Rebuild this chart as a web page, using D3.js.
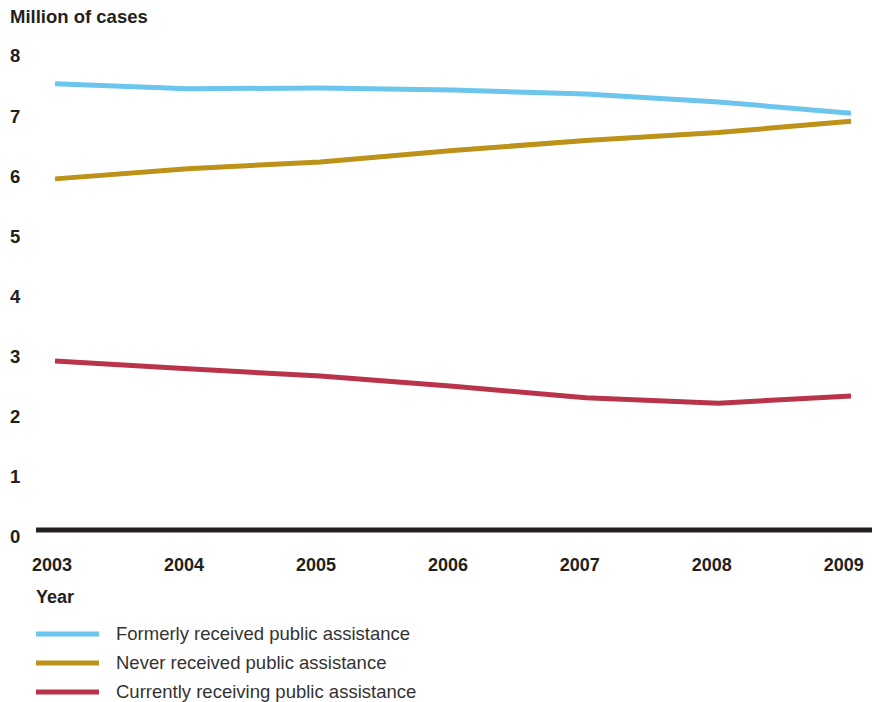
<!DOCTYPE html>
<html>
<head>
<meta charset="utf-8">
<script src="https://cdn.jsdelivr.net/npm/d3@7"></script>
<style>
  html, body { margin: 0; padding: 0; background: #fff; }
  svg { display: block; font-family: "Liberation Sans", Arial, Helvetica, sans-serif; }
</style>
</head>
<body>
<svg id="chart" width="874" height="702"></svg>
<script>
// Child support caseload by public assistance status, millions of cases
const years = [2003, 2004, 2005, 2006, 2007, 2008, 2009];
const formerly = [7.42, 7.34, 7.35, 7.32, 7.25, 7.12, 6.93];
const never = [5.84, 6.01, 6.12, 6.31, 6.48, 6.61, 6.80];
const currently = [2.81, 2.68, 2.56, 2.39, 2.20, 2.11, 2.23];
const yTicks = [0, 1, 2, 3, 4, 5, 6, 7, 8];
const seriesNames = [
  "Formerly received public assistance",
  "Never received public assistance",
  "Currently receiving public assistance"
];
const seriesColors = ["#6cc5ec", "#bc9218", "#b9344a"];

const series = [formerly, never, currently].map((vals, i) => ({
  name: seriesNames[i],
  color: seriesColors[i],
  values: vals.map((v, j) => ({ year: years[j], value: v }))
}));

const svg = d3.select("#chart");
const ink = "#231f20";

const x = d3.scaleLinear().domain([2003, 2009]).range([55, 851]);
const y = d3.scaleLinear().domain([0, 8]).range([530, 49]);

// Title
svg.append("text")
  .attr("x", 10).attr("y", 23)
  .attr("font-size", 18.5).attr("font-weight", "bold").attr("fill", ink)
  .text("Million of cases");

// Y tick labels (sit slightly below their values)
svg.append("g").selectAll("text").data(yTicks).join("text")
  .attr("x", 10).attr("y", d => y(d) + 7)
  .attr("dy", "0.35em")
  .attr("font-size", 18.5).attr("font-weight", "bold").attr("fill", ink)
  .text(d => d);

// Baseline
svg.append("line")
  .attr("x1", 36).attr("x2", 872)
  .attr("y1", y(0)).attr("y2", y(0))
  .attr("stroke", ink).attr("stroke-width", 5);

// Year labels
svg.append("g").selectAll("text").data(years).join("text")
  .attr("x", d => x(d) - 3 - (d - 2003) * 0.7)
  .attr("y", 565)
  .attr("dy", "0.35em")
  .attr("text-anchor", "middle")
  .attr("font-size", 18).attr("font-weight", "bold").attr("fill", ink)
  .text(d => d);

svg.append("text")
  .attr("x", 36).attr("y", 597).attr("dy", "0.35em")
  .attr("font-size", 18).attr("font-weight", "bold").attr("fill", ink)
  .text("Year");

// Series lines
const line = d3.line().x(d => x(d.year)).y(d => y(d.value));
svg.append("g").selectAll("path").data(series).join("path")
  .attr("d", d => line(d.values))
  .attr("fill", "none")
  .attr("stroke", d => d.color)
  .attr("stroke-width", 5)
  .attr("stroke-linejoin", "miter");

// Legend
const legend = svg.append("g").selectAll("g").data(series).join("g")
  .attr("transform", (d, i) => `translate(0, ${634 + i * 29})`);
legend.append("line")
  .attr("x1", 36).attr("x2", 99)
  .attr("stroke", d => d.color).attr("stroke-width", 5);
legend.append("text")
  .attr("x", 116).attr("dy", "0.35em")
  .attr("font-size", 18.5).attr("fill", "#333")
  .text(d => d.name);
</script>
</body>
</html>
